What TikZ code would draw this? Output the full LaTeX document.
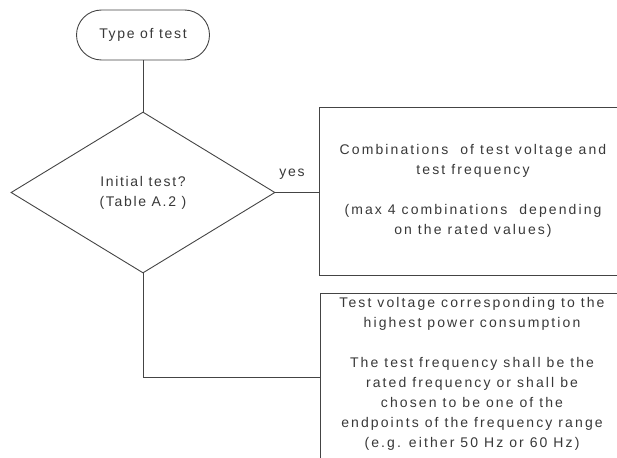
\documentclass[tikz,border=0pt]{standalone}
\usepackage{fontspec}
\setmainfont{Liberation Sans}[LetterSpace=12]
\newfontfamily\widefont{Liberation Sans}[LetterSpace=15]
\usetikzlibrary{shapes.geometric}
\definecolor{linec}{HTML}{444444}
\definecolor{textc}{HTML}{383838}
\tikzset{
  every node/.style={font=\fontsize{14}{20}\selectfont, text=textc},
  wide/.style={font=\widefont\fontsize{14}{20}\selectfont},
  conn/.style={draw=linec, line width=0.9pt},
  boxst/.style={draw=linec, line width=0.9pt, rectangle, inner sep=0pt},
}
\begin{document}
\begin{tikzpicture}[x=1pt, y=-1pt]
\useasboundingbox (0,0) rectangle (617,457);
\node[boxst, rounded corners=25pt, minimum width=133pt, minimum height=50pt] (start) at (143,35) {Type of test};
\node[boxst, diamond, minimum width=264pt, minimum height=161pt, align=center] (dec) at (143,192.5) {Initial test?\\(Table A.2 )};
\node[boxst, wide, minimum width=308pt, minimum height=168pt, align=center] (b1) at (473,191)
  {Combinations \ of test voltage and\\test frequency\\[20pt](max 4 combinations \ depending\\on the rated values)};
\node[boxst, anchor=north west, minimum width=307pt, minimum height=190pt] (b2) at (320,293) {};
\node[wide, align=center, anchor=north, inner sep=0pt] (t2) at (472,297)
  {Test voltage corresponding to the\\highest power consumption\\[20pt]The test frequency shall be the\\rated frequency or shall be\\chosen to be one of the\\endpoints of the frequency range\\(e.g. either 50 Hz or 60 Hz)};
\node[anchor=base] (yes) at (292,176) {yes};
\coordinate (j) at (320,377);
\draw[conn] (start.south) -- (dec.north);
\draw[conn] (dec.east) -- (b1.west |- dec.east);
\draw[conn] (dec.south) |- (j);
\end{tikzpicture}
\end{document}
